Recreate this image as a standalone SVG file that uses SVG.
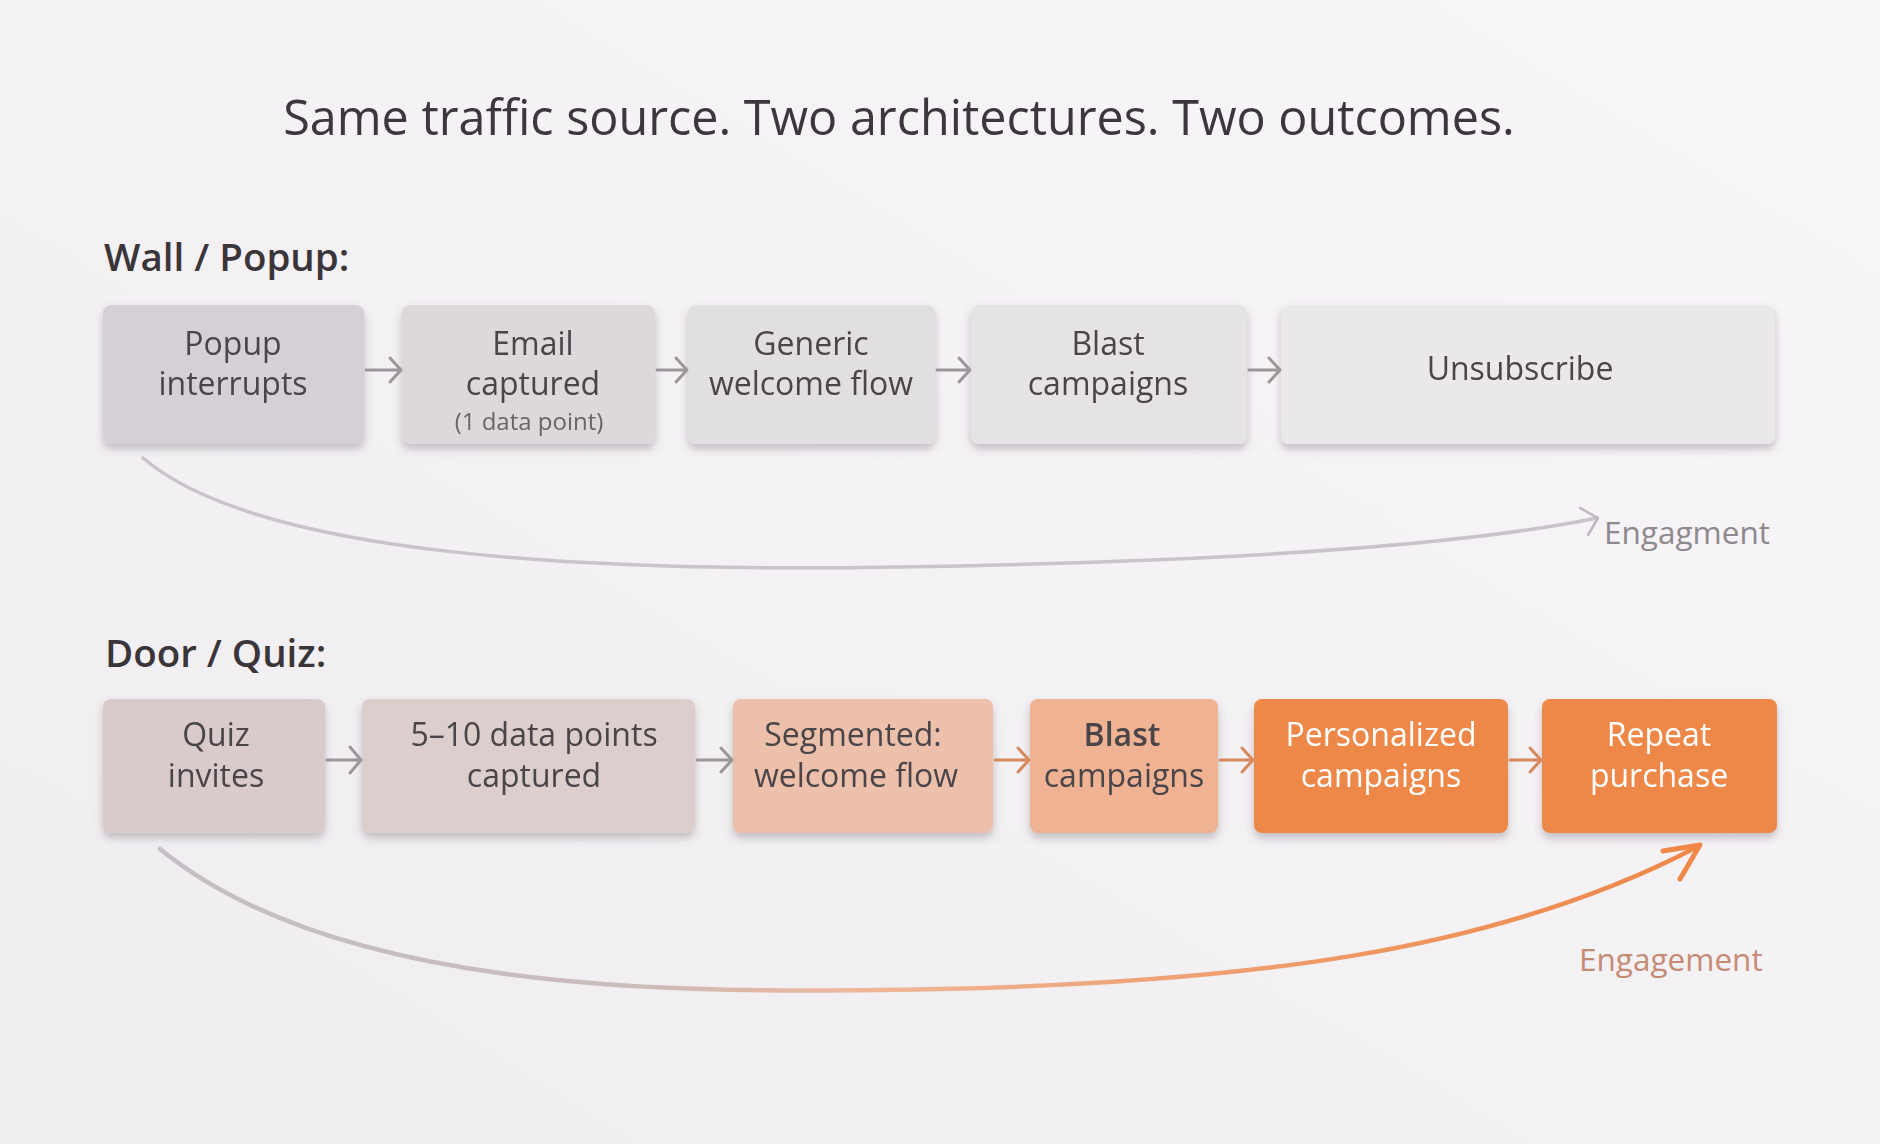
<svg xmlns="http://www.w3.org/2000/svg" width="1880" height="1144" viewBox="0 0 1880 1144">
<defs>
<style>
text{font-family:"Open Sans","Noto Sans","Liberation Sans",sans-serif;}
.title{font-size:48.5px;fill:#3c373c;text-anchor:middle;}
.sec{font-size:38.5px;font-weight:600;fill:#3a3539;}
.t{font-size:32px;fill:#4a4448;text-anchor:middle;}
.tw{font-size:32px;fill:#ffffff;text-anchor:middle;}
.sm{font-size:24px;fill:#6a6468;text-anchor:middle;}
.lbl{font-size:31.5px;}
.ga{fill:none;stroke:#9c969b;stroke-width:3;stroke-linecap:round;stroke-linejoin:round;}
.oa{fill:none;stroke:#d8875c;stroke-width:3;stroke-linecap:round;stroke-linejoin:round;}
</style>
<linearGradient id="bg" x1="0" y1="1" x2="1" y2="0">
<stop offset="0" stop-color="#efedf0"/>
<stop offset="1" stop-color="#f8f6f8"/>
</linearGradient>
<linearGradient id="curveO" x1="160" y1="0" x2="1700" y2="0" gradientUnits="userSpaceOnUse">
<stop offset="0" stop-color="#c4bfc4"/>
<stop offset="0.3" stop-color="#c9bcbc"/>
<stop offset="0.45" stop-color="#eeb79a"/>
<stop offset="0.75" stop-color="#ef9a66"/>
<stop offset="1" stop-color="#ee8748"/>
</linearGradient>
<filter id="sh" x="-10%" y="-10%" width="120%" height="140%">
<feDropShadow dx="0" dy="5" stdDeviation="4" flood-color="#5f535e" flood-opacity="0.32"/>
</filter>
</defs>
<rect width="1880" height="1144" fill="url(#bg)"/>

<text class="title" x="899" y="135">Same traffic source. Two architectures. Two outcomes.</text>

<text class="sec" x="104" y="271">Wall / Popup:</text>
<text class="sec" x="105" y="667">Door / Quiz:</text>

<g id="w1" filter="url(#sh)"><rect x="103" y="305" width="261" height="139" rx="8" fill="#d5d0d5"/>
<text class="t" x="233" y="355">Popup</text><text class="t" x="233" y="395">interrupts</text></g>
<g id="w2" filter="url(#sh)"><rect x="402" y="305" width="253" height="139" rx="8" fill="#dcd8dc"/>
<text class="t" x="533" y="355">Email</text><text class="t" x="533" y="395">captured</text>
<text class="sm" x="529" y="430">(1 data point)</text></g>
<g id="w3" filter="url(#sh)"><rect x="688" y="305" width="247" height="139" rx="8" fill="#e2dfe2"/>
<text class="t" x="811" y="355">Generic</text><text class="t" x="811" y="395">welcome flow</text></g>
<g id="w4" filter="url(#sh)"><rect x="971" y="305" width="276" height="139" rx="8" fill="#e6e3e6"/>
<text class="t" x="1108" y="355">Blast</text><text class="t" x="1108" y="395">campaigns</text></g>
<g id="w5" filter="url(#sh)"><rect x="1281" y="305" width="494" height="139" rx="8" fill="#eae8eb"/>
<text class="t" x="1520" y="380">Unsubscribe</text></g>

<g id="d1" filter="url(#sh)"><rect x="103" y="699" width="222" height="134" rx="8" fill="#d9cbcb"/>
<text class="t" x="216" y="746">Quiz</text><text class="t" x="216" y="787">invites</text></g>
<g id="d2" filter="url(#sh)"><rect x="362" y="699" width="333" height="134" rx="8" fill="#dccecd"/>
<text class="t" x="534" y="746">5–10 data points</text><text class="t" x="534" y="787">captured</text></g>
<g id="d3" filter="url(#sh)"><rect x="733" y="699" width="260" height="134" rx="8" fill="#ecc0aa"/>
<text class="t" x="853" y="746">Segmented:</text><text class="t" x="856" y="787">welcome flow</text></g>
<g id="d4" filter="url(#sh)"><rect x="1030" y="699" width="188" height="134" rx="8" fill="#efb394"/>
<text class="t" x="1122" y="746" font-weight="600">Blast</text><text class="t" x="1124" y="787">campaigns</text></g>
<g id="d5" filter="url(#sh)"><rect x="1254" y="699" width="254" height="134" rx="8" fill="#ee8849"/>
<text class="tw" x="1381" y="746">Personalized</text><text class="tw" x="1381" y="787">campaigns</text></g>
<g id="d6" filter="url(#sh)"><rect x="1542" y="699" width="235" height="134" rx="8" fill="#ee8849"/>
<text class="tw" x="1659" y="746">Repeat</text><text class="tw" x="1659" y="787">purchase</text></g>

<g id="connectors">
<path class="ga" d="M366 370 H400 M390 358 L401 370 L390 382"/>
<path class="ga" d="M657 370 H686 M676 358 L687 370 L676 382"/>
<path class="ga" d="M937 370 H969 M959 358 L970 370 L959 382"/>
<path class="ga" d="M1249 370 H1279 M1269 358 L1280 370 L1269 382"/>

<path class="ga" stroke-width="4" d="M327 760 H360 M350 747 L361 760 L350 773"/>
<path class="ga" d="M697 760 H731 M721 748 L732 760 L721 772"/>
<path class="oa" d="M995 760 H1028 M1018 748 L1029 760 L1018 772"/>
<path class="oa" d="M1220 760 H1252 M1242 748 L1253 760 L1242 772"/>
<path class="oa" d="M1510 760 H1540 M1530 748 L1541 760 L1530 772"/>

<path d="M143 458 C260 558 600 572 900 567 C1200 562 1450 548 1597 518" fill="none" stroke="#c9c4c9" stroke-width="3.5" stroke-linecap="round"/>
<path d="M1580 508 L1598 518 L1588 535" fill="none" stroke="#bdb8bd" stroke-width="2.5" stroke-linecap="round" stroke-linejoin="round"/>
<text class="lbl" x="1604" y="544" fill="#8e898e">Engagment</text>

<path d="M160 849 C330 988 650 993 880 990 C1250 986 1500 950 1697 847" fill="none" stroke="url(#curveO)" stroke-width="4.5" stroke-linecap="round"/>
<path d="M1663 851 L1700 845 L1680 879" fill="none" stroke="#ee8748" stroke-width="5" stroke-linecap="round" stroke-linejoin="round"/>
<text class="lbl" x="1579" y="971" fill="#c58b74">Engagement</text>
</g>
</svg>
